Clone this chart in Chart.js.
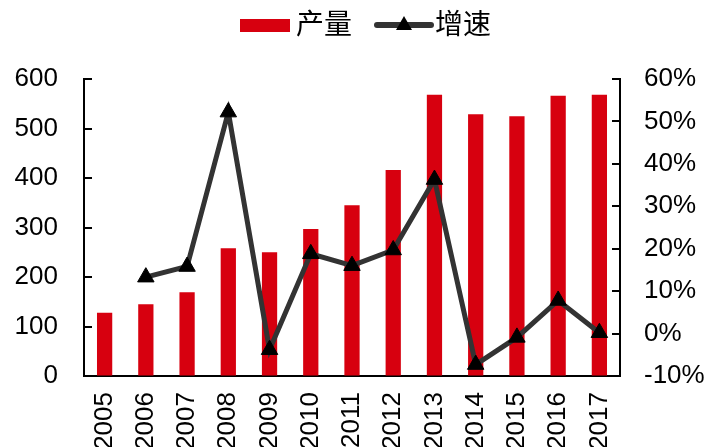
<!DOCTYPE html>
<html>
<head>
<meta charset="utf-8">
<script src="https://cdn.jsdelivr.net/npm/chart.js@4.4.1/dist/chart.umd.min.js"></script>
<style>
html, body { margin: 0; padding: 0; background: #fff; }
#wrap { width: 715px; height: 447px; }
</style>
</head>
<body>
<div id="wrap"><canvas id="myChart"></canvas></div>
<script>
const years = ['2005', '2006', '2007', '2008', '2009', '2010', '2011', '2012', '2013', '2014', '2015', '2016', '2017'];
const output = [128, 145, 169, 258, 250, 297, 345, 416, 568, 529, 525, 566, 568];
const growth = [null, 13.3, 15.8, 52.2, -3.8, 18.8, 16.0, 19.7, 36.3, -7.3, -0.9, 7.8, 0.2];
const seriesNames = ['产量', '增速'];
const leftRange = [0, 600, 100];
const rightRange = [-10, 60, 10];

const FONT = "'Liberation Sans', 'Noto Sans CJK SC', Arial, sans-serif";
const RED = '#d7000f';

// little tick marks pointing into the plot, like the original
const innerTicks = {
    id: 'innerTicks',
    afterDraw(chart) {
        const ctx = chart.ctx;
        ctx.save();
        ctx.strokeStyle = '#000';
        ctx.lineWidth = 2;
        ['y', 'y1'].forEach(id => {
            const sc = chart.scales[id];
            const x0 = id === 'y' ? sc.right : sc.left;
            const dir = id === 'y' ? 1 : -1;
            sc.ticks.forEach((t, i) => {
                const py = Math.round(sc.getPixelForTick(i));
                ctx.beginPath();
                ctx.moveTo(x0, py);
                ctx.lineTo(x0 + dir * 8, py);
                ctx.stroke();
            });
        });
        ctx.restore();
    }
};

const topLegend = {
    id: 'topLegend',
    afterDraw(chart) {
        const ctx = chart.ctx;
        ctx.save();
        ctx.font = '28px ' + FONT;
        ctx.textBaseline = 'middle';
        ctx.fillStyle = '#000';
        const cy = 25;
        // bar item
        ctx.fillStyle = RED;
        ctx.fillRect(240, cy - 6, 50, 13);
        ctx.fillStyle = '#000';
        ctx.fillText(seriesNames[0], 296, cy + 1);
        // line item
        ctx.strokeStyle = '#333';
        ctx.lineWidth = 6;
        ctx.lineCap = 'round';
        ctx.beginPath();
        ctx.moveTo(377, cy);
        ctx.lineTo(431, cy);
        ctx.stroke();
        ctx.fillStyle = '#000';
        ctx.beginPath();
        ctx.moveTo(404, cy - 9);
        ctx.lineTo(412, cy + 5);
        ctx.lineTo(396, cy + 5);
        ctx.closePath();
        ctx.fill();
        ctx.fillText(seriesNames[1], 435, cy + 1);
        ctx.restore();
    }
};

new Chart(document.getElementById('myChart'), {
    data: {
        labels: years,
        datasets: [{
            type: 'line',
            label: seriesNames[1],
            data: growth,
            yAxisID: 'y1',
            order: 0,
            borderColor: '#333',
            borderWidth: 5,
            tension: 0,
            pointStyle: 'triangle',
            pointRadius: 9.5,
            pointBackgroundColor: '#000',
            pointBorderColor: '#000',
            pointBorderWidth: 1
        }, {
            type: 'bar',
            label: seriesNames[0],
            data: output,
            yAxisID: 'y',
            order: 1,
            backgroundColor: RED,
            barPercentage: 0.37,
            categoryPercentage: 1
        }]
    },
    options: {
        responsive: true,
        maintainAspectRatio: false,
        animation: false,
        layout: { padding: { top: 79, left: 0, right: 0, bottom: 0 } },
        plugins: {
            legend: { display: false },
            tooltip: { enabled: false }
        },
        scales: {
            x: {
                grid: { display: false },
                border: { display: true, color: '#000', width: 2 },
                ticks: {
                    color: '#000',
                    font: { family: FONT, size: 26 },
                    minRotation: 90,
                    maxRotation: 90,
                    padding: 8
                },
                afterFit(scale) { scale.height = 71; }
            },
            y: {
                position: 'left',
                min: leftRange[0],
                max: leftRange[1],
                grid: { drawOnChartArea: false, drawTicks: false },
                border: { display: true, color: '#000', width: 2 },
                ticks: {
                    stepSize: leftRange[2],
                    color: '#000',
                    font: { family: FONT, size: 26 },
                    padding: 26
                },
                afterFit(scale) { scale.width = 84; }
            },
            y1: {
                position: 'right',
                min: rightRange[0],
                max: rightRange[1],
                grid: { drawOnChartArea: false, drawTicks: false },
                border: { display: true, color: '#000', width: 2 },
                ticks: {
                    stepSize: rightRange[2],
                    color: '#000',
                    font: { family: FONT, size: 26 },
                    padding: 24,
                    callback: v => v + '%'
                },
                afterFit(scale) { scale.width = 95; }
            }
        }
    },
    plugins: [innerTicks, topLegend]
});
</script>
</body>
</html>
